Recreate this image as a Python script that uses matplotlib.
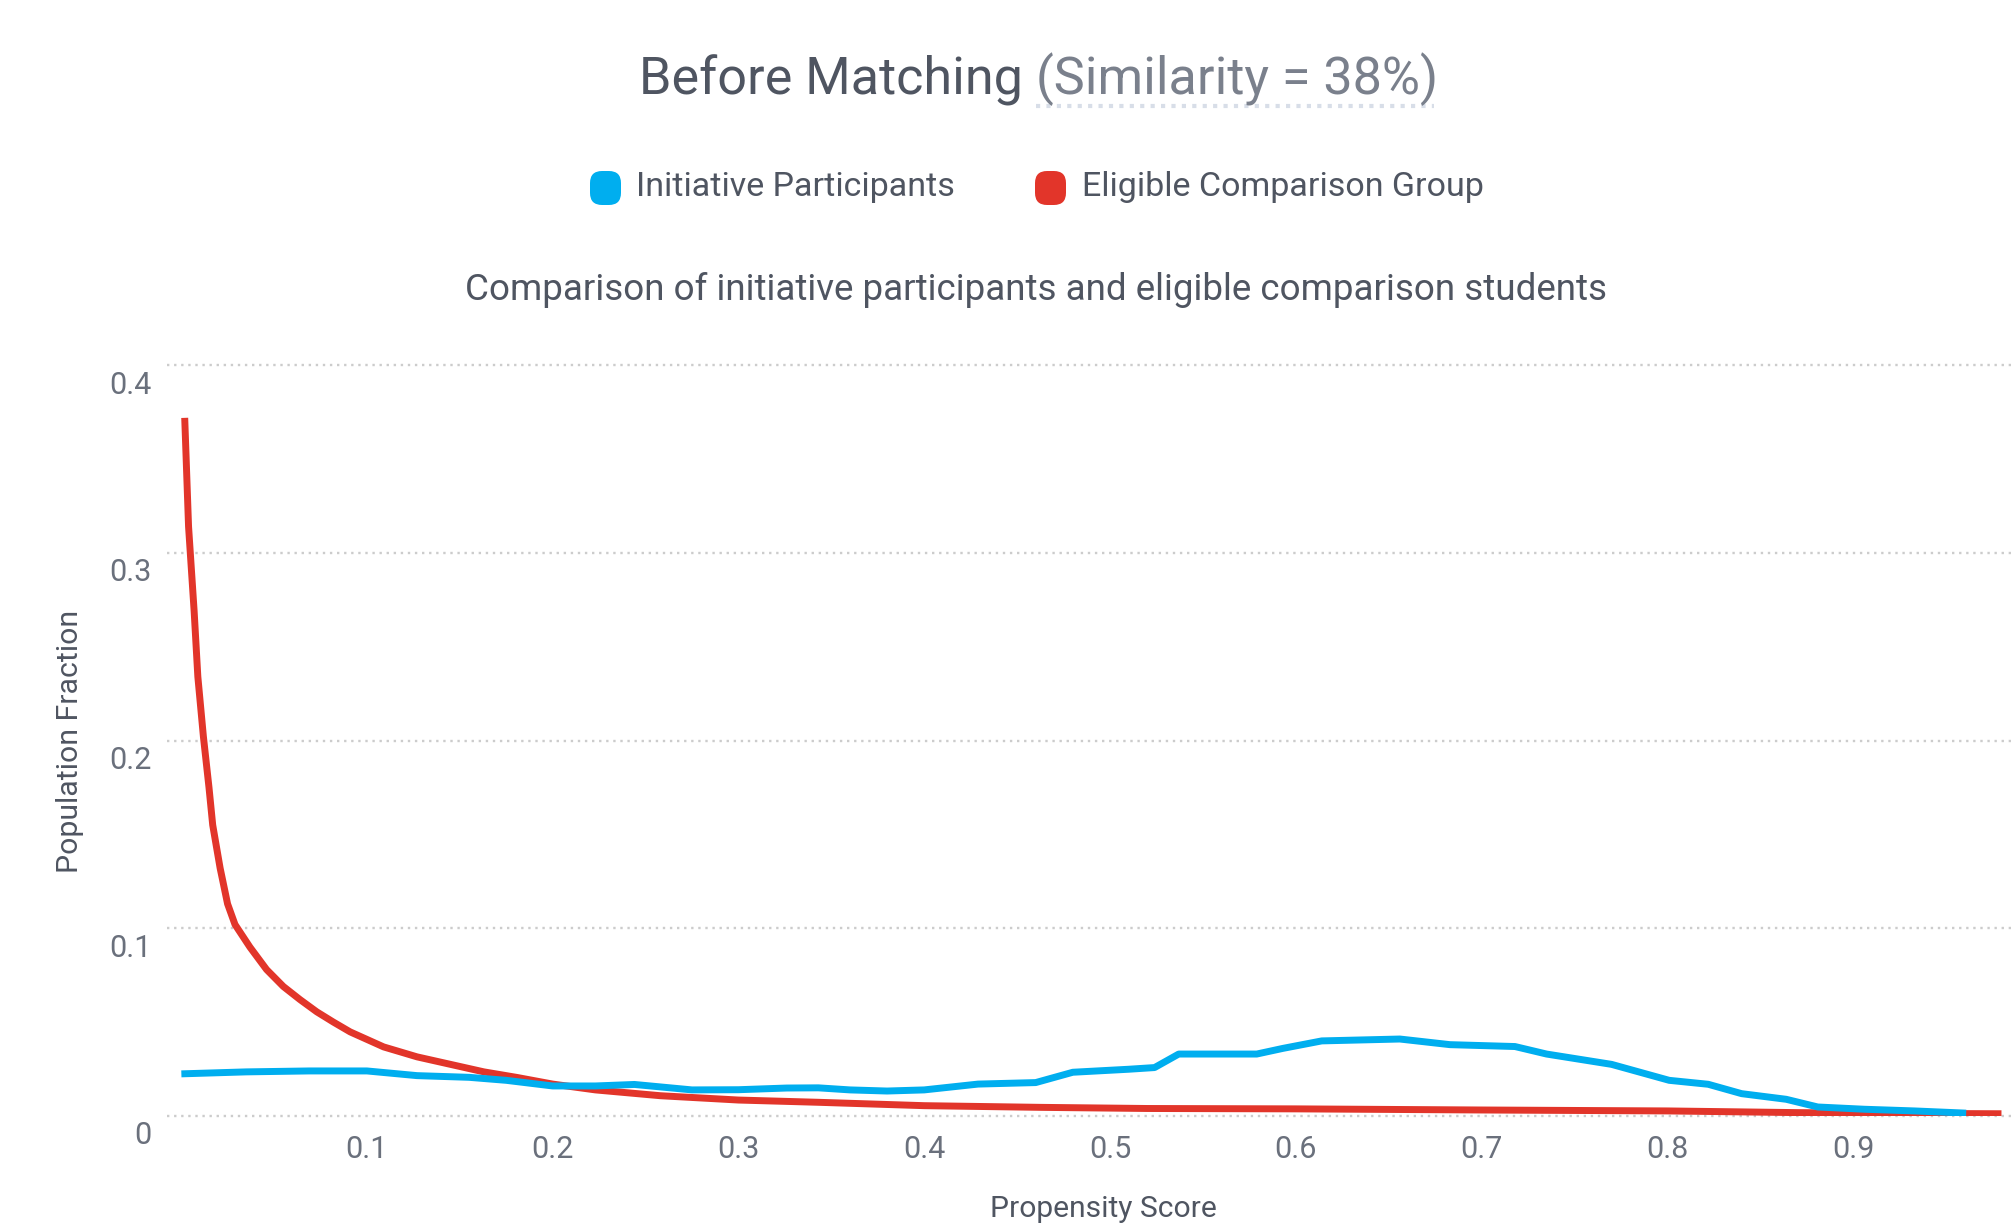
import matplotlib.pyplot as plt
import matplotlib.transforms as mtransforms
from matplotlib.lines import Line2D
from matplotlib.patches import FancyBboxPatch

plt.rcParams['font.family'] = ['Roboto', 'DejaVu Sans']

# propensity score distributions
red_x = [0.002, 0.004, 0.007, 0.009, 0.012, 0.015, 0.017, 0.021, 0.025, 0.029,
         0.037, 0.046, 0.055, 0.064, 0.073, 0.082, 0.091, 0.109, 0.127, 0.145,
         0.163, 0.181, 0.2, 0.223, 0.258, 0.3, 0.343, 0.4, 0.463, 0.52, 0.6,
         0.7, 0.8, 0.87, 0.93, 0.978]
red_y = [0.370, 0.314, 0.269, 0.234, 0.202, 0.175, 0.155, 0.132, 0.113, 0.102,
         0.090, 0.078, 0.069, 0.062, 0.0555, 0.050, 0.0448, 0.0368, 0.0315, 0.0275,
         0.0235, 0.0205, 0.017, 0.0139, 0.0108, 0.0085, 0.0073, 0.0055, 0.0046, 0.0040,
         0.0038, 0.0032, 0.0027, 0.0018, 0.0014, 0.0012]

blue_x = [0.002, 0.035, 0.069, 0.1, 0.127, 0.155, 0.175, 0.2, 0.223, 0.244,
          0.275, 0.3, 0.326, 0.343, 0.36, 0.38, 0.4, 0.429, 0.46, 0.48,
          0.51, 0.524, 0.537, 0.579, 0.593, 0.614, 0.656, 0.683, 0.718, 0.735,
          0.77, 0.801, 0.822, 0.84, 0.864, 0.881, 0.906, 0.933, 0.959]
blue_y = [0.0225, 0.0235, 0.0240, 0.0240, 0.0215, 0.0206, 0.0190, 0.0160, 0.0160, 0.0168,
          0.0139, 0.0140, 0.0149, 0.0150, 0.0139, 0.0133, 0.0139, 0.0170, 0.0178, 0.0233,
          0.0249, 0.0258, 0.0330, 0.0330, 0.0360, 0.0400, 0.0410, 0.0380, 0.0370, 0.0330,
          0.0275, 0.0190, 0.0169, 0.0119, 0.0089, 0.0048, 0.0036, 0.0027, 0.0016]

y_ticks = [0, 0.1, 0.2, 0.3, 0.4]
y_labels = ["0", "0.1", "0.2", "0.3", "0.4"]
x_ticks = [0.1, 0.2, 0.3, 0.4, 0.5, 0.6, 0.7, 0.8, 0.9]
x_labels = ["0.1", "0.2", "0.3", "0.4", "0.5", "0.6", "0.7", "0.8", "0.9"]

series_names = ["Initiative Participants", "Eligible Comparison Group"]

BLUE = "#00aeef"
RED = "#e2352a"
DARK = "#4f5561"
GREY = "#6a707c"

W, H = 2011, 1226
fig = plt.figure(figsize=(W / 100, H / 100), dpi=100)


def fx(px):
    return px / W


def fy(py):
    return 1 - py / H


ax = fig.add_axes([fx(167), fy(1116), (W - 167) / W, (1116 - 365) / H])

ax.plot(red_x, red_y, color=RED, lw=5, solid_joinstyle="round", zorder=3)
ax.plot(blue_x, blue_y, color=BLUE, lw=5, solid_joinstyle="round", zorder=4)

ax.set_xlim(-0.0076, 0.985)
ax.set_ylim(0, 0.4)
ax.set_yticks(y_ticks)
ax.set_yticklabels(y_labels)
ax.set_xticks(x_ticks)
ax.set_xticklabels(x_labels)

ax.yaxis.grid(True, linestyle=(0, (1, 2)), color="#cccccc", lw=1.7)
for gl in ax.get_ygridlines():
    gl.set_clip_on(False)
for s in ax.spines.values():
    s.set_visible(False)

ax.tick_params(axis="both", length=0, labelsize=22, labelcolor=GREY)
ax.tick_params(axis="y", pad=11)
ax.tick_params(axis="x", pad=14)
shift = mtransforms.ScaledTranslation(0, -0.17, fig.dpi_scale_trans)
for lab in ax.get_yticklabels():
    lab.set_transform(lab.get_transform() + shift)

# title in two tones with dotted underline
fig.text(fx(639), fy(94), "Before Matching", fontsize=37.5, color=DARK,
         ha="left", va="baseline")
fig.text(fx(1036), fy(94), "(Similarity = 38%)", fontsize=37.5, color="#7a808c",
         ha="left", va="baseline")
fig.add_artist(Line2D([fx(1036), fx(1434)], [fy(106), fy(106)], color="#d8dee8",
                      lw=3, linestyle=(0, (1, 1.5)), transform=fig.transFigure))

# legend
for name, col, xm, xt in [(series_names[0], BLUE, 590, 636),
                          (series_names[1], RED, 1035, 1082)]:
    fig.add_artist(FancyBboxPatch((fx(xm), fy(205)), fx(31), 34 / H,
                                  boxstyle="round,pad=0,rounding_size=0.006",
                                  transform=fig.transFigure, fc=col, ec="none",
                                  mutation_aspect=W / H))
    fig.text(fx(xt), fy(187), name, fontsize=24.5, color=DARK, ha="left", va="center")

fig.text(fx(1036), fy(290), "Comparison of initiative participants and eligible comparison students",
         fontsize=26.5, color=DARK, ha="center", va="center")

fig.text(fx(70), fy(741), "Population Fraction", fontsize=21.8, color=DARK,
         rotation=90, ha="center", va="center")
fig.text(fx(1103), fy(1223), "Propensity Score", fontsize=21.6, color=DARK,
         ha="center", va="bottom")

fig.savefig("out.png", dpi=100, facecolor="white")
